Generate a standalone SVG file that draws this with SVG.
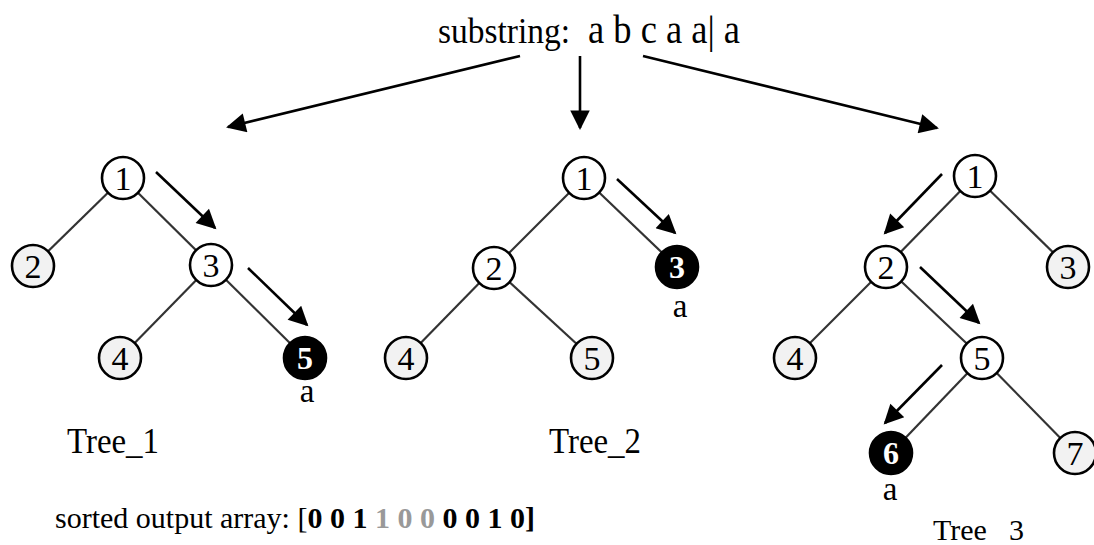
<svg xmlns="http://www.w3.org/2000/svg" width="1094" height="545" viewBox="0 0 1094 545">
<defs>
<marker id="ah" viewBox="0 0 10 10" refX="9" refY="5" markerWidth="8.5" markerHeight="7.5" markerUnits="strokeWidth" orient="auto">
<path d="M0,0 L10,5 L0,10 z" fill="#000"/>
</marker>
<style>
text{font-family:"Liberation Serif","Times New Roman",serif;fill:#000}
.edge{stroke:#333;stroke-width:2.2}
.arr{stroke:#000;stroke-width:2.6;fill:none;marker-end:url(#ah)}
.n{stroke:#000;stroke-width:2.6}
.w{fill:#fff}
.g{fill:#f2f2f2}
.b{fill:#000}
.num{font-size:34px;text-anchor:middle}
.bn{font-size:32px;font-weight:bold;text-anchor:middle;fill:#fff}
.lbl{font-size:35px}
.out{font-size:30px}
.a{font-size:33px;text-anchor:middle}
</style>
</defs>
<rect width="1094" height="545" fill="#fff"/>

<g id="title">
<text x="438" y="43" style="font-size:36px" textLength="132" lengthAdjust="spacingAndGlyphs">substring:</text>
<text x="588" y="43" style="font-size:39px" textLength="152" lengthAdjust="spacingAndGlyphs">a b c a a| a</text>
</g>

<g id="connectors">
<line class="arr" x1="520" y1="56" x2="228" y2="127"/>
<line class="arr" x1="580" y1="56" x2="580" y2="128"/>
<line class="arr" x1="643" y1="56" x2="937" y2="128"/>
<!-- tree 1 edges -->
<line class="edge" x1="123" y1="178" x2="33" y2="266"/>
<line class="edge" x1="123" y1="178" x2="211" y2="265"/>
<line class="edge" x1="211" y1="265" x2="120" y2="358"/>
<line class="edge" x1="211" y1="265" x2="305" y2="358"/>
<!-- tree 2 edges -->
<line class="edge" x1="584" y1="178" x2="494" y2="268"/>
<line class="edge" x1="584" y1="178" x2="677" y2="267"/>
<line class="edge" x1="494" y1="268" x2="406" y2="358"/>
<line class="edge" x1="494" y1="268" x2="592" y2="358"/>
<!-- tree 3 edges -->
<line class="edge" x1="975" y1="176" x2="886" y2="267"/>
<line class="edge" x1="975" y1="176" x2="1068" y2="267"/>
<line class="edge" x1="886" y1="267" x2="795" y2="358"/>
<line class="edge" x1="886" y1="267" x2="982" y2="358"/>
<line class="edge" x1="982" y1="358" x2="891" y2="453"/>
<line class="edge" x1="982" y1="358" x2="1075" y2="453"/>
<!-- path arrows -->
<line class="arr" x1="156" y1="172" x2="215" y2="228"/>
<line class="arr" x1="248" y1="268" x2="307" y2="325"/>
<line class="arr" x1="617" y1="179" x2="675" y2="233"/>
<line class="arr" x1="942" y1="174" x2="885" y2="233"/>
<line class="arr" x1="920" y1="267" x2="979" y2="323"/>
<line class="arr" x1="942" y1="365" x2="885" y2="423"/>
</g>

<g id="tree1">
<g id="t1n1"><circle class="n w" cx="123" cy="178" r="21"/><text class="num" x="123" y="190">1</text></g>
<g id="t1n2"><circle class="n g" cx="33" cy="266" r="21"/><text class="num" x="33" y="278">2</text></g>
<g id="t1n3"><circle class="n w" cx="211" cy="265" r="21"/><text class="num" x="211" y="277">3</text></g>
<g id="t1n4"><circle class="n g" cx="120" cy="358" r="21"/><text class="num" x="120" y="370">4</text></g>
<g id="t1n5"><circle class="n b" cx="305" cy="358" r="21"/><text class="bn" x="305" y="369">5</text></g>
<text class="a" x="307" y="402">a</text>
<text class="lbl" x="67" y="453" textLength="92" lengthAdjust="spacingAndGlyphs">Tree_1</text>
</g>

<g id="tree2">
<g id="t2n1"><circle class="n w" cx="584" cy="178" r="21"/><text class="num" x="584" y="190">1</text></g>
<g id="t2n2"><circle class="n w" cx="494" cy="268" r="21"/><text class="num" x="494" y="280">2</text></g>
<g id="t2n3"><circle class="n b" cx="677" cy="267" r="21"/><text class="bn" x="677" y="278">3</text></g>
<g id="t2n4"><circle class="n g" cx="406" cy="358" r="21"/><text class="num" x="406" y="370">4</text></g>
<g id="t2n5"><circle class="n g" cx="592" cy="358" r="21"/><text class="num" x="592" y="370">5</text></g>
<text class="a" x="680" y="317">a</text>
<text class="lbl" x="549" y="453" textLength="92" lengthAdjust="spacingAndGlyphs">Tree_2</text>
</g>

<g id="tree3">
<g id="t3n1"><circle class="n w" cx="975" cy="176" r="21"/><text class="num" x="975" y="188">1</text></g>
<g id="t3n2"><circle class="n w" cx="886" cy="267" r="21"/><text class="num" x="886" y="279">2</text></g>
<g id="t3n3"><circle class="n g" cx="1068" cy="267" r="21"/><text class="num" x="1068" y="279">3</text></g>
<g id="t3n4"><circle class="n g" cx="795" cy="358" r="21"/><text class="num" x="795" y="370">4</text></g>
<g id="t3n5"><circle class="n w" cx="982" cy="358" r="21"/><text class="num" x="982" y="370">5</text></g>
<g id="t3n6"><circle class="n b" cx="891" cy="453" r="21"/><text class="bn" x="891" y="464">6</text></g>
<g id="t3n7"><circle class="n g" cx="1075" cy="453" r="21"/><text class="num" x="1075" y="465">7</text></g>
<text class="a" x="890" y="500">a</text>
<text class="out" x="933" y="540">Tree<tspan dx="22">3</tspan></text>
</g>

<g id="output">
<text class="out" x="55" y="528">sorted output array: [<tspan font-weight="bold">0 0 1 </tspan><tspan font-weight="bold" fill="#999">1 0 0 </tspan><tspan font-weight="bold">0 0 1 0]</tspan></text>
</g>
</svg>
